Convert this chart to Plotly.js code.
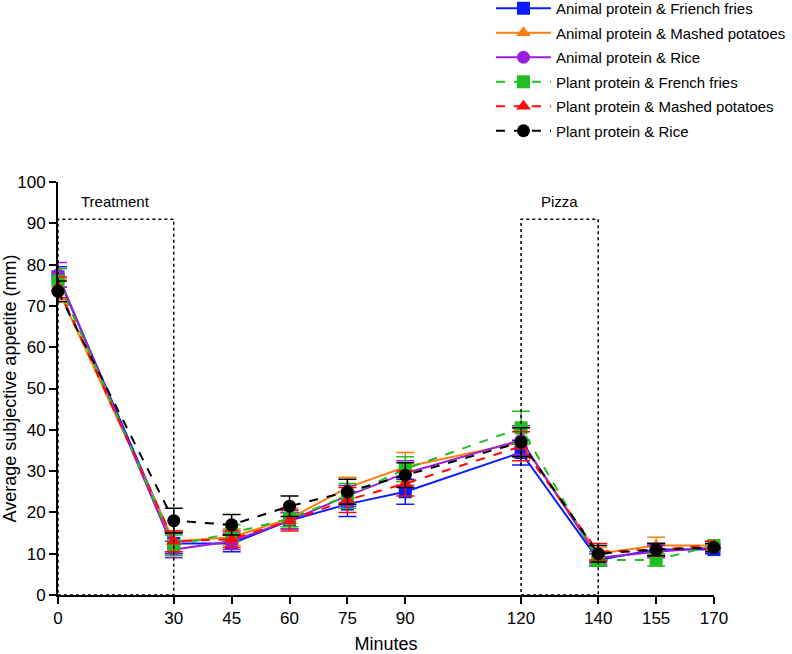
<!DOCTYPE html>
<html>
<head>
<meta charset="utf-8">
<script src="https://cdn.plot.ly/plotly-3.0.1.min.js"></script>
<style>
  html, body { margin: 0; padding: 0; background: #fff; }
  #myPlot { width: 792px; height: 654px; }
</style>
</head>
<body>
<div id="myPlot"></div>
<script>
// time points (minutes)
const minutes = [0, 30, 45, 60, 75, 90, 120, 140, 155, 170];

// mean appetite per meal (mm)
const animalFries   = [77.0, 12.5, 12.5, 18.0, 22.0, 25.0, 34.5, 8.5, 11.0, 11.0];
const animalMashed  = [74.0, 13.0, 14.0, 18.5, 26.0, 31.0, 37.0, 10.0, 12.0, 12.0];
const animalRice    = [77.5, 11.0, 13.0, 18.0, 24.0, 29.5, 37.5, 9.0, 10.5, 11.5];
const plantFries    = [76.0, 12.0, 15.0, 18.5, 24.0, 30.5, 40.5, 8.5, 8.5, 12.0];
const plantMashed   = [74.5, 13.0, 13.5, 18.0, 23.0, 27.0, 36.0, 10.5, 11.0, 12.0];
const plantRice     = [73.5, 18.0, 17.0, 21.5, 25.0, 29.0, 37.0, 10.0, 11.0, 11.5];

// standard errors
const animalFriesErr  = [2.5, 2.5, 2.0, 2.0, 3.0, 3.0, 3.0, 1.5, 1.5, 1.0];
const animalMashedErr = [2.5, 2.5, 2.0, 2.5, 2.5, 3.5, 3.5, 1.5, 2.0, 1.0];
const animalRiceErr   = [3.0, 2.0, 2.0, 2.0, 2.5, 3.0, 3.5, 1.5, 1.5, 1.0];
const plantFriesErr   = [3.0, 2.5, 2.0, 2.0, 3.0, 3.0, 4.0, 1.5, 1.5, 1.0];
const plantMashedErr  = [2.5, 2.5, 2.0, 2.5, 3.0, 3.0, 3.5, 2.0, 1.5, 1.0];
const plantRiceErr    = [2.5, 3.0, 2.5, 2.5, 3.0, 3.0, 3.5, 2.0, 1.5, 1.0];

const names = [
  'Animal protein & Friench fries',
  'Animal protein & Mashed potatoes',
  'Animal protein & Rice',
  'Plant protein & French fries',
  'Plant protein & Mashed potatoes',
  'Plant protein & Rice'
];
const colors  = ['#0a1cff', '#ff7f0e', '#9b1fd8', '#1fbf1f', '#ff0a0a', '#000000'];
const symbols = ['square', 'triangle-up', 'circle', 'square', 'triangle-up', 'circle'];
const dashes  = ['solid', 'solid', 'solid', 'dash', 'dash', 'dash'];
const means   = [animalFries, animalMashed, animalRice, plantFries, plantMashed, plantRice];
const errs    = [animalFriesErr, animalMashedErr, animalRiceErr, plantFriesErr, plantMashedErr, plantRiceErr];

const traces = means.map((y, i) => ({
  x: minutes,
  y: y,
  name: names[i],
  legendgroup: 'g' + i,
  type: 'scatter',
  mode: 'lines+markers',
  cliponaxis: false,
  line: { color: colors[i], width: 2, dash: dashes[i] },
  marker: { color: colors[i], symbol: symbols[i], size: 13 },
  error_y: { type: 'data', array: errs[i], visible: true, color: colors[i], thickness: 1.5, width: 9 }
}));

const layout = {
  width: 792,
  height: 654,
  margin: { l: 58, r: 78, t: 182, b: 59, autoexpand: false },
  paper_bgcolor: '#fff',
  plot_bgcolor: '#fff',
  font: { family: 'Liberation Sans, Arial, sans-serif', color: '#000', size: 17 },
  showlegend: true,
  legend: {
    x: 0.66, y: 1.46, xanchor: 'left', yanchor: 'top',
    font: { size: 15 }, bgcolor: 'rgba(0,0,0,0)',
    itemwidth: 55, tracegroupgap: 2
  },
  xaxis: {
    range: [0, 170],
    tickvals: minutes,
    ticktext: minutes.map(String),
    showgrid: false, zeroline: false,
    showline: true, linecolor: '#000', linewidth: 2,
    ticks: 'outside', ticklen: 7, tickwidth: 2, tickcolor: '#000',
    tickfont: { size: 17 },
    title: { text: 'Minutes', font: { size: 18 }, standoff: 15 }
  },
  yaxis: {
    range: [0, 100],
    dtick: 10,
    showgrid: false, zeroline: false,
    showline: true, linecolor: '#000', linewidth: 2,
    ticks: 'outside', ticklen: 7, tickwidth: 2, tickcolor: '#000',
    tickfont: { size: 17 },
    title: { text: 'Average subjective appetite (mm)', font: { size: 18 }, standoff: 4 }
  },
  shapes: [
    { type: 'rect', xref: 'x', yref: 'y', x0: 0, x1: 30, y0: 0, y1: 91,
      line: { color: '#000', width: 1.5, dash: 'dot' } },
    { type: 'rect', xref: 'x', yref: 'y', x0: 120, x1: 140, y0: 0, y1: 91,
      line: { color: '#000', width: 1.5, dash: 'dot' } }
  ],
  annotations: [
    { x: 15, y: 95.3, xref: 'x', yref: 'y', text: 'Treatment', showarrow: false, font: { size: 15 } },
    { x: 130, y: 95.3, xref: 'x', yref: 'y', text: 'Pizza', showarrow: false, font: { size: 15 } }
  ]
};

Plotly.newPlot('myPlot', traces, layout, { displayModeBar: false });
</script>
</body>
</html>
